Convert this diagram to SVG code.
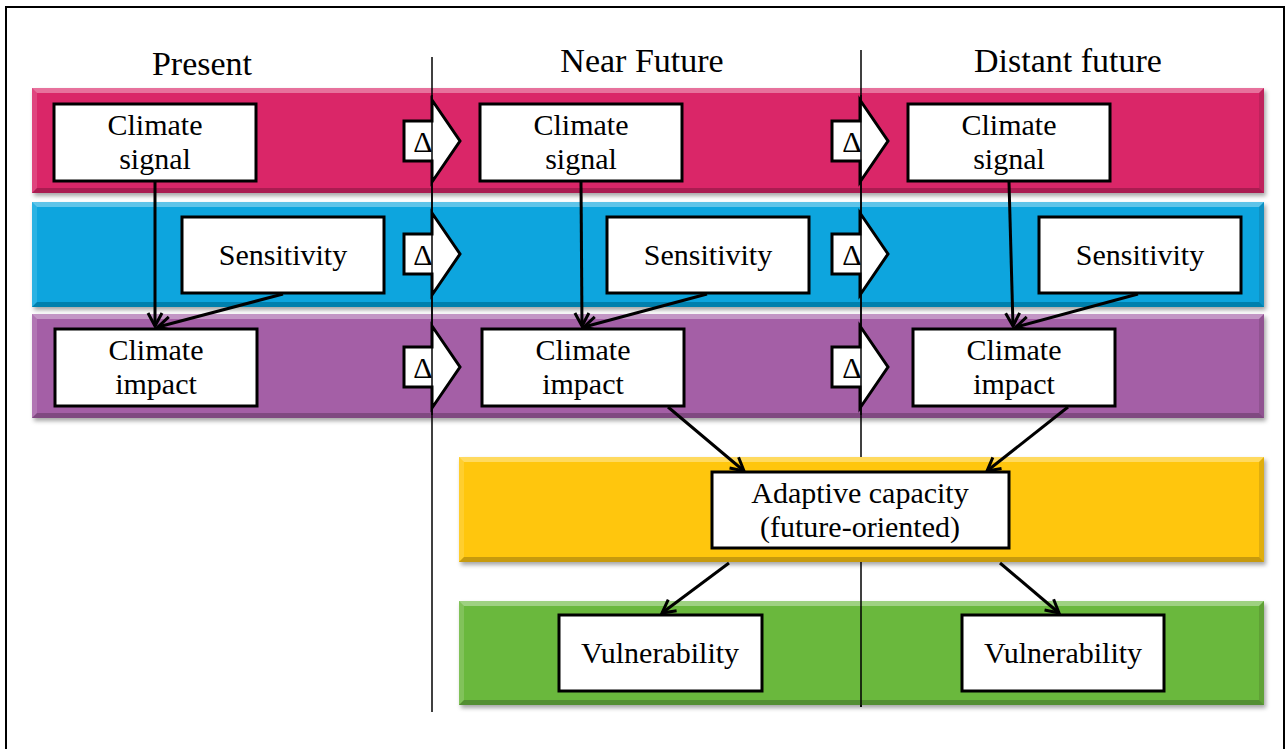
<svg xmlns="http://www.w3.org/2000/svg" width="1285" height="749" viewBox="0 0 1285 749">
<style>
.frame{fill:none;stroke:#000;stroke-width:2}
.vline{stroke:#000;stroke-width:1.5;fill:none}
.box{fill:#fff;stroke:#000;stroke-width:3}
.t{font-family:"Liberation Serif","Times New Roman",serif;font-size:30px;fill:#000;text-anchor:middle}
.h{font-family:"Liberation Serif","Times New Roman",serif;font-size:34px;fill:#000;text-anchor:middle}
.d{font-family:"Liberation Serif","Times New Roman",serif;font-size:30px;fill:#000;text-anchor:middle}
.delta{fill:#fff;stroke:#000;stroke-width:3;stroke-linejoin:miter}
.conn{stroke:#000;stroke-width:3;fill:none;marker-end:url(#ah)}
.hi{fill:#fff;opacity:0.35}
.hl{fill:#fff;opacity:0.15}
.dk{fill:#000;opacity:0.22}
.dr{fill:#000;opacity:0.12}
</style>
<defs>
<filter id="sh" x="-5%" y="-20%" width="110%" height="150%">
<feDropShadow dx="2" dy="3" stdDeviation="2" flood-color="#000" flood-opacity="0.35"/>
</filter>
<marker id="ah" markerUnits="userSpaceOnUse" markerWidth="20" markerHeight="20" refX="14" refY="8" orient="auto" viewBox="0 0 20 16">
<path d="M1,1 L14,8 L1,15" fill="none" stroke="#000" stroke-width="3"/>
</marker>
</defs>
<rect width="1285" height="749" fill="#fff"/>
<rect class="frame" x="6" y="7" width="1278" height="760"/>

<g id="headers">
<text class="h" x="202" y="75">Present</text>
<text class="h" x="642" y="72">Near Future</text>
<text class="h" x="1068" y="72">Distant future</text>
</g>

<g id="band-climate-signal" filter="url(#sh)">
<rect x="32" y="88" width="1232" height="105" fill="#DA2568"/>
<polygon class="hi" points="32,88 1264,88 1259,93 37,93"/>
<polygon class="hl" points="32,88 37,93 37,188 32,193"/>
<polygon class="dk" points="32,193 1264,193 1259,188 37,188"/>
<polygon class="dr" points="1264,88 1264,193 1259,188 1259,93"/>
</g>
<g id="band-sensitivity" filter="url(#sh)">
<rect x="32" y="202" width="1232" height="105" fill="#08A5DE"/>
<polygon class="hi" points="32,202 1264,202 1259,207 37,207"/>
<polygon class="hl" points="32,202 37,207 37,302 32,307"/>
<polygon class="dk" points="32,307 1264,307 1259,302 37,302"/>
<polygon class="dr" points="1264,202 1264,307 1259,302 1259,207"/>
</g>
<g id="band-climate-impact" filter="url(#sh)">
<rect x="32" y="314" width="1232" height="104" fill="#A45EA6"/>
<polygon class="hi" points="32,314 1264,314 1259,319 37,319"/>
<polygon class="hl" points="32,314 37,319 37,413 32,418"/>
<polygon class="dk" points="32,418 1264,418 1259,413 37,413"/>
<polygon class="dr" points="1264,314 1264,418 1259,413 1259,319"/>
</g>

<g id="timelines">
<line class="vline" x1="432" y1="57" x2="432" y2="712"/>
<line class="vline" x1="861" y1="50" x2="861" y2="457"/>
<line class="vline" x1="861" y1="562" x2="861" y2="707"/>
</g>

<g id="band-adaptive" filter="url(#sh)">
<rect x="459" y="457" width="805" height="105" fill="#FFC60A"/>
<polygon class="hi" points="459,457 1264,457 1259,462 464,462"/>
<polygon class="hl" points="459,457 464,462 464,557 459,562"/>
<polygon class="dk" points="459,562 1264,562 1259,557 464,557"/>
<polygon class="dr" points="1264,457 1264,562 1259,557 1259,462"/>
</g>
<g id="band-vulnerability" filter="url(#sh)">
<rect x="459" y="601" width="805" height="104" fill="#6BB83E"/>
<polygon class="hi" points="459,601 1264,601 1259,606 464,606"/>
<polygon class="hl" points="459,601 464,606 464,700 459,705"/>
<polygon class="dk" points="459,705 1264,705 1259,700 464,700"/>
<polygon class="dr" points="1264,601 1264,705 1259,700 1259,606"/>
</g>
<line class="vline" x1="861" y1="601" x2="861" y2="707"/>

<g id="delta-arrows">
<g id="delta-1-1"><polygon class="delta" points="404,121 432,121 432,100 460,141 432,182 432,161 404,161"/><text class="d" x="423" y="152">Δ</text></g>
<g id="delta-1-2"><polygon class="delta" points="404,234 432,234 432,213 460,254 432,295 432,274 404,274"/><text class="d" x="423" y="265">Δ</text></g>
<g id="delta-1-3"><polygon class="delta" points="404,347 432,347 432,326 460,367 432,408 432,387 404,387"/><text class="d" x="423" y="378">Δ</text></g>
<g id="delta-2-1"><polygon class="delta" points="832,121 860,121 860,100 888,141 860,182 860,161 832,161"/><text class="d" x="852" y="152">Δ</text></g>
<g id="delta-2-2"><polygon class="delta" points="832,234 860,234 860,213 888,254 860,295 860,274 832,274"/><text class="d" x="852" y="265">Δ</text></g>
<g id="delta-2-3"><polygon class="delta" points="832,347 860,347 860,326 888,367 860,408 860,387 832,387"/><text class="d" x="852" y="378">Δ</text></g>
<line class="vline" x1="432" y1="95" x2="432" y2="415"/>
<line class="vline" x1="861" y1="95" x2="861" y2="415"/>
</g>

<g id="connectors">
<line class="conn" x1="155" y1="182" x2="155" y2="326"/>
<line class="conn" x1="283" y1="294" x2="158" y2="327"/>
<line class="conn" x1="581" y1="182" x2="582" y2="326"/>
<line class="conn" x1="707" y1="294" x2="584" y2="327"/>
<line class="conn" x1="1009" y1="182" x2="1013" y2="326"/>
<line class="conn" x1="1138" y1="294" x2="1016" y2="327"/>
<line class="conn" x1="668" y1="407" x2="744" y2="471"/>
<line class="conn" x1="1068" y1="407" x2="987" y2="471"/>
<line class="conn" x1="729" y1="563" x2="662" y2="613"/>
<line class="conn" x1="1000" y1="563" x2="1059" y2="613"/>
</g>

<g id="signal-present"><rect class="box" x="54" y="104" width="202" height="77"/><text class="t" x="155" y="135">Climate</text><text class="t" x="155" y="169">signal</text></g>
<g id="signal-near"><rect class="box" x="480" y="104" width="202" height="77"/><text class="t" x="581" y="135">Climate</text><text class="t" x="581" y="169">signal</text></g>
<g id="signal-distant"><rect class="box" x="908" y="104" width="202" height="77"/><text class="t" x="1009" y="135">Climate</text><text class="t" x="1009" y="169">signal</text></g>

<g id="sensitivity-present"><rect class="box" x="182" y="217" width="202" height="76"/><text class="t" x="283" y="265">Sensitivity</text></g>
<g id="sensitivity-near"><rect class="box" x="607" y="217" width="202" height="76"/><text class="t" x="708" y="265">Sensitivity</text></g>
<g id="sensitivity-distant"><rect class="box" x="1039" y="217" width="202" height="76"/><text class="t" x="1140" y="265">Sensitivity</text></g>

<g id="impact-present"><rect class="box" x="55" y="329" width="202" height="77"/><text class="t" x="156" y="360">Climate</text><text class="t" x="156" y="394">impact</text></g>
<g id="impact-near"><rect class="box" x="482" y="329" width="202" height="77"/><text class="t" x="583" y="360">Climate</text><text class="t" x="583" y="394">impact</text></g>
<g id="impact-distant"><rect class="box" x="913" y="329" width="202" height="77"/><text class="t" x="1014" y="360">Climate</text><text class="t" x="1014" y="394">impact</text></g>

<g id="adaptive-capacity"><rect class="box" x="712" y="472" width="297" height="76"/><text class="t" x="860" y="503">Adaptive capacity</text><text class="t" x="860" y="537">(future-oriented)</text></g>

<g id="vulnerability-near"><rect class="box" x="559" y="615" width="203" height="76"/><text class="t" x="660" y="663">Vulnerability</text></g>
<g id="vulnerability-distant"><rect class="box" x="962" y="615" width="202" height="76"/><text class="t" x="1063" y="663">Vulnerability</text></g>
</svg>
